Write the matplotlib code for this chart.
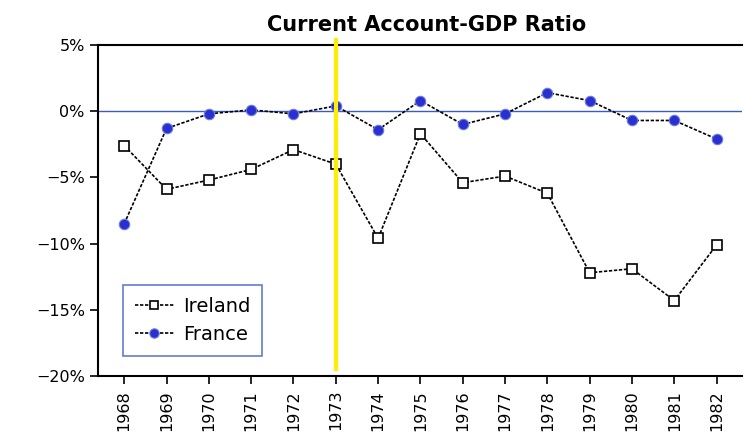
import matplotlib
matplotlib.use("Agg")
import matplotlib.pyplot as plt
from matplotlib.ticker import FuncFormatter

years = list(range(1968, 1983))
ireland = [-2.6, -5.9, -5.2, -4.4, -2.9, -4.0, -9.6, -1.7, -5.4, -4.9, -6.2, -12.2, -11.9, -14.3, -10.1]
france = [-8.5, -1.3, -0.2, 0.1, -0.2, 0.4, -1.4, 0.8, -1.0, -0.2, 1.4, 0.8, -0.7, -0.7, -2.1]
yticks = [5, 0, -5, -10, -15, -20]
highlight_year = 1973

fig = plt.figure(figsize=(7.45, 4.41), dpi=100)
fig.patch.set_facecolor("white")
ax = fig.add_axes([98/745, 1 - 376/441, (742 - 98)/745, (376 - 45)/441])

ax.axhline(0, color="#3a5bc7", lw=1.0, zorder=1)
ax.plot(years, ireland, color="black", lw=1.2, ls=(0, (2, 1)), marker="s",
        ms=7, mfc="white", mec="black", mew=1.2, label="Ireland", zorder=3)
ax.plot(years, france, color="black", lw=1.2, ls=(0, (2, 1)), marker="o",
        ms=7.5, mfc="#2a2fd0", mec="#6a7be0", mew=0.8, label="France", zorder=3)

ax.axvline(highlight_year, ymin=0.02, ymax=1.015, color="#ffee00", lw=3, zorder=5, clip_on=False)

ax.set_xlim(1967.38, 1982.6)
ax.set_ylim(-20, 5)
ax.set_yticks(yticks)
ax.yaxis.set_major_formatter(FuncFormatter(lambda v, p: f"{int(v)}%".replace("-", "\u2212")))
ax.set_xticks(years)
ax.set_xticklabels([str(y) for y in years], rotation=90)
ax.tick_params(axis="both", labelsize=11.5, length=6, width=1.2, direction="out")
ax.tick_params(axis="x", pad=4)

for s in ["left", "bottom", "top"]:
    ax.spines[s].set_linewidth(1.5)
ax.spines["right"].set_visible(False)

ax.set_title("Current Account-GDP Ratio", fontsize=15, fontweight="bold", pad=10, x=0.51)

leg = ax.legend(loc="lower left", bbox_to_anchor=(0.033, 0.05), fontsize=14,
                frameon=True, fancybox=False, edgecolor="#3a5bc7",
                handlelength=2.0, handletextpad=0.5, borderpad=0.6,
                labelspacing=0.45, borderaxespad=0.2, markerscale=0.9)
leg.get_frame().set_linewidth(1.2)

fig.savefig("out.png", dpi=100)
